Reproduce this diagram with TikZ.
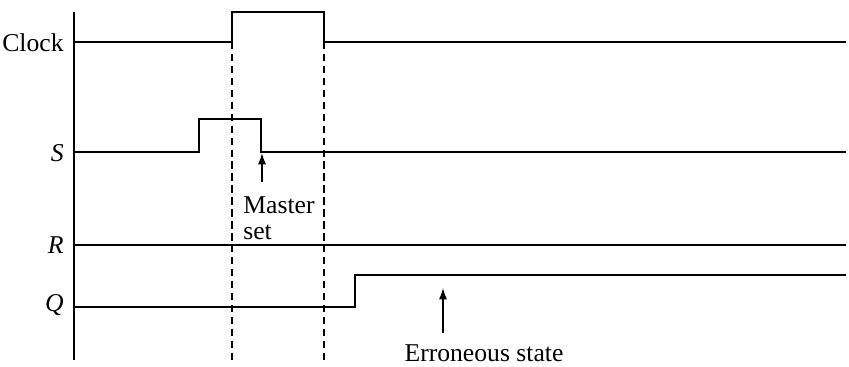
\documentclass[tikz,border=0pt]{standalone}
\usepackage{fontspec}
\setmainfont{Liberation Serif}
\usepackage{tikz}
\usetikzlibrary{arrows.meta, positioning}

\begin{document}
\begin{tikzpicture}[
  x=0.02cm, y=-0.02cm,
  wave/.style={line width=0.8pt, line join=miter},
  guide/.style={line width=0.8pt, dash pattern=on 4.2pt off 2.6pt},
  pointer/.style={line width=0.75pt, -{Latex[length=6.5pt, width=4.6pt]}},
  sig/.style={anchor=east, inner sep=0pt, font=\fontsize{14.6}{15}\selectfont},
  note/.style={inner sep=0pt, font=\fontsize{14.6}{14.8}\selectfont}
]
\useasboundingbox (0,0) rectangle (849,367);

% time axis
\draw[wave] (74,12) coordinate (axtop) -- (74,360) coordinate (axbot);

% signal names
\node[sig] (clk) at (64,43)  {Clock};
\node[sig] (s)   at (64,153) {\textit{S}};
\node[sig] (r)   at (64,245) {\textit{R}};
\node[sig] (q)   at (64,305) {\textit{Q}};

% waveforms
\draw[wave] (74,42) -- (232,42) coordinate (clkup) |- (324,12) -- (324,42) coordinate (clkdn) -- (846,42);
\draw[wave] (74,152) -- (199,152) |- (261,119) -- (261,152) coordinate (sfall) -- (846,152);
\draw[wave] (74,245) -- (846,245);
\draw[wave] (74,307) -- (355,307) |- (846,275);

% clock edges
\draw[guide] (clkup) -- (232,360);
\draw[guide] (clkdn) -- (324,360);

% annotations
\node[note, align=left, anchor=north west] (mset) at (243,196) {Master\\set};
\draw[pointer] (262,182) coordinate (mtail) -- (262,153);

\node[note, anchor=north] (err) at (484,344) {Erroneous state};
\coordinate (etip) at (443,288);
\draw[pointer] (443,333) coordinate (etail) -- (etip);
\end{tikzpicture}
\end{document}
